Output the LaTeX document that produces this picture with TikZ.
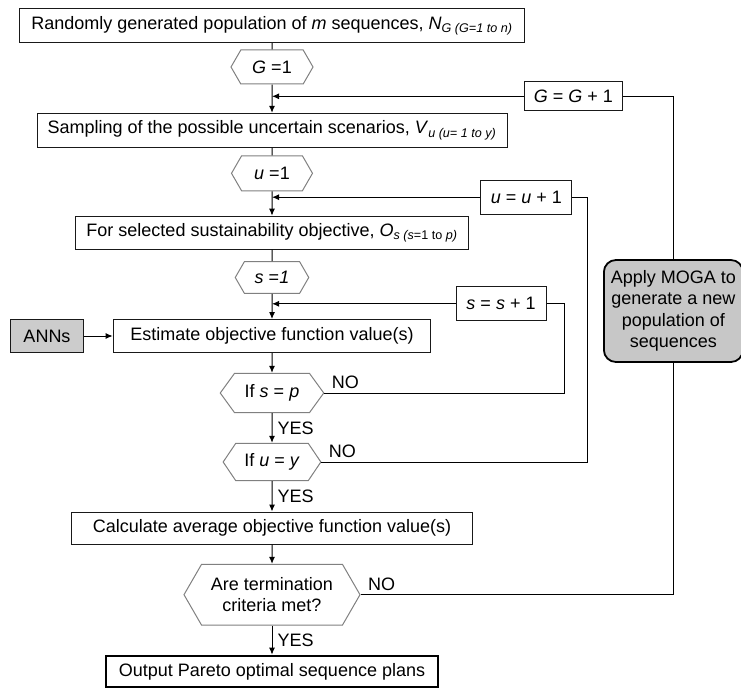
\documentclass[tikz,border=0pt]{standalone}
\usepackage{fontspec}
\setmainfont{Liberation Sans}
\usetikzlibrary{shapes.symbols,arrows.meta}

\begin{document}
\begin{tikzpicture}[x=1pt, y=-1pt,
    font=\fontsize{18}{21}\selectfont,
    box/.style={draw=black!90, line width=1pt, minimum height=33pt, inner sep=2pt},
    hexa/.style={signal, signal to=west and east, signal pointer angle=120, draw=black!50, line width=1pt, inner sep=2pt},
    link/.style={draw=black, line width=1pt},
    arr/.style={link, -{Latex[length=7pt,width=6pt]}},
    nolabel/.style={anchor=south west, inner sep=0pt, xshift=7pt, yshift=4pt},
    yeslabel/.style={right, inner sep=0pt, xshift=5pt}]
    \useasboundingbox (0,0) rectangle (741,690);

    % main column
    \node[box, minimum width=505pt, minimum height=34.5pt] (pop) at (272, 25.5) {Randomly generated population of \textit{m} sequences, \textit{N}\textsubscript{\textit{G (G=1 to n)}}};
    \node[hexa, minimum width=82pt, minimum height=34pt] (g1) at (272, 67) {\textit{G} =1};
    \node[box, minimum width=470pt, minimum height=34pt] (samp) at (272, 130.3) {Sampling of the possible uncertain scenarios, \textit{V}\textsubscript{\textit{u (u= 1 to y)}}};
    \node[hexa, minimum width=81pt, minimum height=35pt] (u1) at (272, 173.3) {\textit{u} =1};
    \node[box, minimum width=393pt] (obj) at (272, 232.7) {For selected sustainability objective, \textit{O}\textsubscript{\textit{s (s}=1 to \textit{p)}}};
    \node[hexa, minimum width=73.5pt, minimum height=31.6pt] (s1) at (272, 277.5) {\textit{s} =\textit{1}};
    \node[box, minimum width=317.6pt] (est) at (272, 336) {Estimate objective function value(s)};
    \node[hexa, signal pointer angle=108, minimum width=103.5pt, minimum height=39.4pt] (ifs) at (272, 393) {If \textit{s} = \textit{p}};
    \node[hexa, signal pointer angle=112, minimum width=97.7pt, minimum height=37.4pt] (ifu) at (272, 462) {If \textit{u} = \textit{y}};
    \node[box, minimum width=401.7pt, minimum height=32pt] (avg) at (272, 528) {Calculate average objective function value(s)};
    \node[hexa, minimum width=176pt, minimum height=60.7pt, align=center] (term) at (272, 594.7) {Are termination\\criteria met?};
    \node[box, draw=black, line width=2.6pt, minimum width=332pt, minimum height=31pt] (out) at (272, 671.5) {Output Pareto optimal sequence plans};

    % side boxes
    \node[box, minimum width=97.5pt, minimum height=29.3pt] (ginc) at (573.3, 96.3) {\textit{G} = \textit{G} + 1};
    \node[box, minimum width=91pt, minimum height=34pt] (uinc) at (526.4, 197.2) {\textit{u} = \textit{u} + 1};
    \node[box, minimum width=90pt, minimum height=34pt] (sinc) at (501, 303.8) {\textit{s} = \textit{s} + 1};
    \node[box, fill=black!20, minimum width=73pt, minimum height=32.4pt] (ann) at (47, 336) {ANNs};

    % connectors
    \draw[link] (pop) -- (g1);
    \draw[arr] (g1) -- (samp);
    \draw[link] (samp) -- (u1);
    \draw[arr] (u1) -- (obj);
    \draw[link] (obj) -- (s1);
    \draw[arr] (s1) -- (est);
    \draw[arr] (ann) -- (est);
    \draw[arr] (est) -- (ifs);
    \draw[arr] (ifs) -- node[yeslabel] {YES} (ifu);
    \draw[arr] (ifu) -- node[yeslabel] {YES} (avg);
    \draw[arr] (avg) -- (term);
    \draw[arr] (term) -- node[yeslabel] {YES} (out);

    % loops back
    \draw[arr] (ginc.west) -- (ginc.west -| g1.south);
    \draw[arr] (uinc.west) -- (uinc.west -| u1.south);
    \draw[arr] (sinc.west) -- (sinc.west -| s1.south);
    \draw[link] (ifs.east) node[nolabel] {NO} -| ([xshift=18pt]sinc.east) -- (sinc.east);
    \draw[link] (ifu.east) node[nolabel] {NO} -| ([xshift=15pt]uinc.east) -- (uinc.east);

    % MOGA box on the outer loop
    \node[draw=black, line width=1.8pt, fill=black!22, rounded corners=12pt, minimum width=139pt, minimum height=102pt, align=center, font=\fontsize{18}{21.5}\selectfont] (moga) at (673.4, 311) {Apply MOGA to\\generate a new\\population of\\sequences};
    \draw[link] (term.east) node[nolabel] {NO} -| (moga.south);
    \draw[link] (moga.north) |- (ginc.east);
\end{tikzpicture}
\end{document}
